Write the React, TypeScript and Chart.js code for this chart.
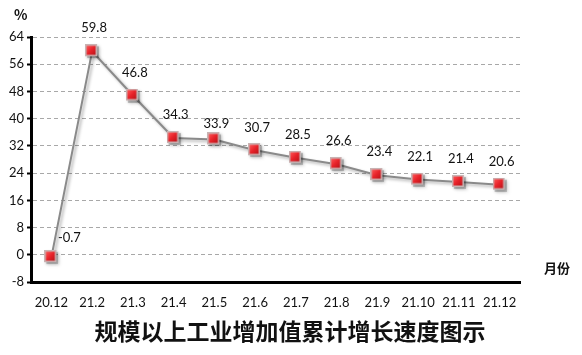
import React, { useEffect, useRef } from "react";
import { Chart, registerables } from "chart.js";

Chart.register(...registerables);

const categories = ["20.12", "21.2", "21.3", "21.4", "21.5", "21.6", "21.7", "21.8", "21.9", "21.10", "21.11", "21.12"];
const growth = [-0.7, 59.8, 46.8, 34.3, 33.9, 30.7, 28.5, 26.6, 23.4, 22.1, 21.4, 20.6];
const yTicks = [-8, 0, 8, 16, 24, 32, 40, 48, 56, 64];
const chartTitle = "规模以上工业增加值累计增长速度图示";
const yUnit = "%";
const xUnit = "月份";

function makeMarker(): HTMLCanvasElement {
  const c = document.createElement("canvas");
  c.width = 14;
  c.height = 14;
  const g = c.getContext("2d")!;
  g.fillStyle = "rgba(0,0,0,0.18)";
  g.fillRect(2, 2, 12, 12);
  g.fillStyle = "#c9b3b3";
  g.fillRect(0, 0, 12, 12);
  const grad = g.createLinearGradient(1, 1, 11, 11);
  grad.addColorStop(0, "#ff5a5a");
  grad.addColorStop(0.5, "#e8232a");
  grad.addColorStop(1, "#b51218");
  g.fillStyle = grad;
  g.fillRect(1.5, 1.5, 9, 9);
  return c;
}

export default function App() {
  const ref = useRef<HTMLCanvasElement | null>(null);
  useEffect(() => {
    document.body.style.margin = "0";
    const marker = makeMarker();
    const textPlugin = {
      id: "texts",
      beforeDatasetsDraw(chart: any) {
        const ctx = chart.ctx;
        ctx.save();
        ctx.shadowColor = "rgba(0,0,0,0.3)";
        ctx.shadowBlur = 3;
        ctx.shadowOffsetX = 2;
        ctx.shadowOffsetY = 2;
      },
      afterDatasetsDraw(chart: any) {
        chart.ctx.restore();
      },
      afterDraw(chart: any) {
        const ctx = chart.ctx;
        const meta = chart.getDatasetMeta(0);
        ctx.save();
        ctx.fillStyle = "#111";
        ctx.font = "13px Lato, 'DejaVu Sans', sans-serif";
        ctx.textAlign = "center";
        ctx.textBaseline = "middle";
        meta.data.forEach((p: any, i: number) => {
          let dx = 2;
          let dy = -23;
          if (i === 0) { dx = 18; dy = -19; }
          if (i === 4) { dy = -16; }
          ctx.fillText(String(growth[i]), p.x + dx, p.y + dy);
        });
        ctx.font = "bold 14px 'Noto Sans CJK SC', sans-serif";
        ctx.textAlign = "left";
        ctx.fillText(yUnit, 14, 15);
        ctx.font = "bold 13px 'Noto Sans CJK SC', sans-serif";
        ctx.fillText(xUnit, 544, 268);
        ctx.font = "bold 23px 'Noto Sans CJK SC', sans-serif";
        ctx.textAlign = "center";
        ctx.fillText(chartTitle, 290, 331);
        ctx.restore();
      },
    };
    const chart = new Chart(ref.current!, {
      type: "line",
      data: {
        labels: categories,
        datasets: [
          {
            data: growth,
            borderColor: "#8a8a8a",
            borderWidth: 2,
            tension: 0,
            pointStyle: marker as any,
            pointRadius: 7,
          },
        ],
      },
      options: {
        animation: false,
        responsive: false,
        layout: { padding: { top: 37, right: 62, left: 0, bottom: 0 } },
        plugins: { legend: { display: false }, tooltip: { enabled: false } },
        scales: {
          x: {
            offset: true,
            afterFit(scale: any) { scale.height = 73; },
            grid: { display: true, drawOnChartArea: false, drawTicks: false, color: "transparent" },
            border: { display: true, color: "#000", width: 3 },
            ticks: { color: "#111", padding: 13, font: { family: "Lato, 'DejaVu Sans', sans-serif", size: 13 }, maxRotation: 0, autoSkip: false },
          },
          y: {
            min: -8,
            max: 64,
            afterFit(scale: any) { scale.width = 31; },
            afterBuildTicks(scale: any) { scale.ticks = yTicks.map((v) => ({ value: v })); },
            grid: {
              color: (c: any) => (c.tick && c.tick.value === -8 ? "transparent" : "#a8a8a8"),
              tickColor: "#000",
              tickLength: 4,
              tickWidth: 2,
              tickBorderDash: [],
              lineWidth: 1,
            },
            border: { display: true, color: "#000", width: 3, dash: [4, 3] } as any,
            ticks: { color: "#111", padding: 3, font: { family: "Lato, 'DejaVu Sans', sans-serif", size: 13 } },
          },
        },
      },
      plugins: [textPlugin],
    });
    return () => chart.destroy();
  }, []);
  return <canvas ref={ref} width={582} height={355} style={{ display: "block" }} />;
}
